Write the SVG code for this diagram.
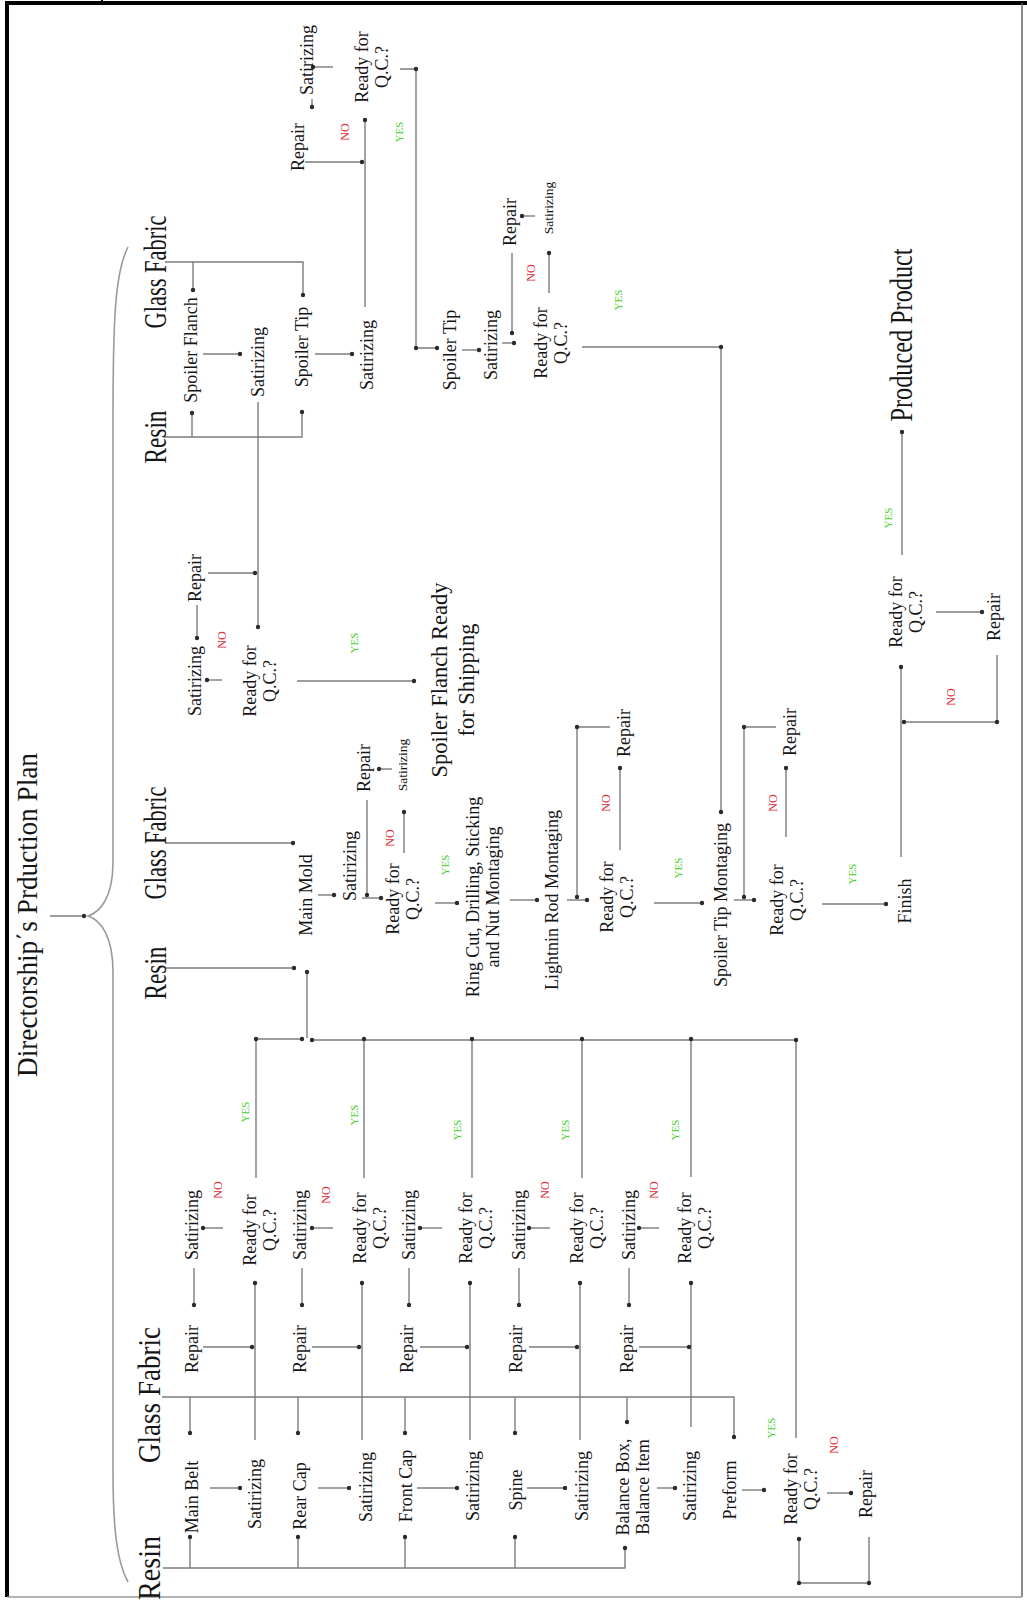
<svg xmlns="http://www.w3.org/2000/svg" width="1027" height="1600" viewBox="0 0 1027 1600">
<defs>
<style>
.t{font-family:"Liberation Serif","Times New Roman",serif;font-size:18px;fill:#151515;text-anchor:middle;dominant-baseline:central}
.big{font-size:31px}
.sm{font-size:13.5px}
.ttl{font-size:29px}
.shp{font-size:22.5px}
.no{font-family:"Liberation Serif",serif;font-size:12px;fill:#e0313b;text-anchor:middle;dominant-baseline:central}
.yes{font-family:"Liberation Serif",serif;font-size:11px;fill:#45cf2a;text-anchor:middle;dominant-baseline:central}
.c{fill:none;stroke:#7c7c7c;stroke-width:1.4}
.a{fill:none;stroke:#7c7c7c;stroke-width:1.4;marker-end:url(#dot)}
.d{fill:#2a2a2a}
</style>
<marker id="dot" viewBox="0 0 6 6" refX="3" refY="3" markerWidth="6" markerHeight="6" markerUnits="userSpaceOnUse"><circle cx="3" cy="3" r="2.2" fill="#2a2a2a"/></marker>
</defs>
<rect width="1027" height="1600" fill="#fff"/>
<g id="frame">
<line x1="7" y1="2" x2="7" y2="1597" stroke="#000" stroke-width="4"/>
<line x1="5" y1="3" x2="1027" y2="3" stroke="#000" stroke-width="4"/>
<line x1="102" y1="0" x2="102" y2="4" stroke="#000" stroke-width="2"/>
<line x1="1022" y1="3" x2="1022" y2="1597" stroke="#666" stroke-width="1.5"/>
<line x1="7" y1="1597" x2="1022" y2="1597" stroke="#999" stroke-width="1.5"/>
</g>

<g id="title"><text class="t ttl" transform="translate(27 915) rotate(-90)" textLength="324" lengthAdjust="spacingAndGlyphs">Directorship΄s Prduction Plan</text></g>
<g id="brace">
<path d="M128,247 C115,272 113,320 113,420 L113,862 C113,898 100,912 88,916 C100,920 113,935 113,972 L113,1470 C113,1530 117,1562 128,1582" fill="none" stroke="#9a9a9a" stroke-width="1.6"/>
</g>

<g id="connectors">
<path class="a" d="M50,916 H84"/>
<!-- top-left -->
<path class="a" d="M165,262 H303 V295"/>
<path class="a" d="M193,262 V290"/>
<path class="a" d="M163,437 H302 V412"/>
<path class="a" d="M192,437 V413"/>
<path class="a" d="M203,354 H240"/>
<path class="a" d="M315,354 H352"/>
<path class="a" d="M258,402 V627"/>
<path class="a" d="M208,573 H255"/>
<path class="a" d="M197,605 V638"/>
<path class="a" d="M222,680 H207"/>
<path class="a" d="M297,681 H414"/>
<!-- top-right -->
<path class="a" d="M333,67 H313"/>
<path class="a" d="M312,99 V107"/>
<path class="a" d="M305,162 H362"/>
<path class="a" d="M365,307 V120"/>
<path class="a" d="M400,69 H416 V348 H437"/>
<circle class="d" cx="416" cy="69" r="2.2"/><circle class="d" cx="416" cy="348" r="2.2"/>
<path class="a" d="M462,350 H479"/>
<path class="a" d="M502,343 H514"/>
<path class="a" d="M512,253 V333"/>
<path class="a" d="M535,216 H522"/>
<path class="a" d="M549,293 V253"/>
<path class="a" d="M582,347 H721 V812"/>
<circle class="d" cx="721" cy="347" r="2.2"/>
<!-- middle -->
<path class="a" d="M165,843 H293"/>
<path class="a" d="M165,968 H294"/>
<path class="a" d="M256,1178 V1039 H302"/>
<circle class="d" cx="256" cy="1039" r="2.2"/>
<path class="a" d="M796,1438 V1040 H312"/>
<circle class="d" cx="796" cy="1040" r="2.2"/>
<path class="a" d="M307,1038 V972"/>
<path class="c" d="M364,1178 V1039 M472,1178 V1039 M582,1178 V1039 M691,1177 V1039"/>
<circle class="d" cx="364" cy="1039" r="2.2"/><circle class="d" cx="472" cy="1039" r="2.2"/><circle class="d" cx="582" cy="1039" r="2.2"/><circle class="d" cx="691" cy="1039" r="2.2"/>
<path class="a" d="M318,895 H334"/>
<path class="a" d="M362,898 H381"/>
<path class="a" d="M367,800 V895"/>
<path class="a" d="M404,853 V812"/>
<path class="a" d="M392,769 H379"/>
<path class="a" d="M435,903 H457"/>
<path class="a" d="M510,900 H537"/>
<path class="a" d="M567,900 H587"/>
<path class="a" d="M610,727 H577 V897"/>
<circle class="d" cx="577" cy="727" r="2.2"/>
<path class="a" d="M620,850 V768"/>
<path class="a" d="M654,903 H702"/>
<path class="a" d="M734,900 H754"/>
<path class="a" d="M776,727 H744 V897"/>
<circle class="d" cx="744" cy="727" r="2.2"/>
<path class="a" d="M786,837 V768"/>
<path class="a" d="M822,904 H886"/>
<path class="a" d="M901,857 V667"/>
<path class="a" d="M936,612 H982"/>
<path class="a" d="M997,655 V722 H904"/>
<circle class="d" cx="997" cy="722" r="2.2"/>
<path class="a" d="M902,555 V432"/>
<!-- bottom -->
<path class="a" d="M163,1568 H625 V1548"/>
<path class="a" d="M190,1568 V1537"/><path class="a" d="M298,1568 V1537"/><path class="a" d="M405,1568 V1537"/><path class="a" d="M515,1568 V1537"/>
<path class="a" d="M162,1397 H734 V1437"/>
<path class="a" d="M190,1397 V1433"/><path class="a" d="M298,1397 V1433"/><path class="a" d="M405,1397 V1433"/><path class="a" d="M515,1397 V1433"/><path class="a" d="M627,1397 V1422"/>
<path class="a" d="M210,1488 H240"/><path class="a" d="M318,1488 H349"/><path class="a" d="M417,1488 H457"/><path class="a" d="M527,1488 H565"/><path class="a" d="M657,1488 H675"/><path class="a" d="M742,1490 H764"/>
<path class="a" d="M255,1440 V1283"/><path class="a" d="M362,1440 V1283"/><path class="a" d="M470,1440 V1283"/><path class="a" d="M580,1440 V1283"/><path class="a" d="M691,1427 V1283"/>
<path class="a" d="M203,1347 H252"/><path class="a" d="M312,1347 H359"/><path class="a" d="M420,1347 H467"/><path class="a" d="M529,1347 H577"/><path class="a" d="M639,1347 H689"/>
<path class="a" d="M223,1228 H203"/><path class="a" d="M333,1228 H312"/><path class="a" d="M442,1228 H420"/><path class="a" d="M550,1228 H529"/><path class="a" d="M659,1228 H639"/>
<path class="a" d="M194,1268 V1305"/><path class="a" d="M302,1268 V1305"/><path class="a" d="M409,1268 V1305"/><path class="a" d="M519,1268 V1305"/><path class="a" d="M629,1268 V1305"/>
<path class="a" d="M827,1493 H851"/>
<path class="a" d="M869,1537 V1583 H799 V1539"/>
<circle class="d" cx="869" cy="1583" r="2.2"/><circle class="d" cx="799" cy="1583" r="2.2"/>
</g>

<g id="labels">
<text class="no" transform="translate(345 132) rotate(-90)">NO</text>
<text class="no" transform="translate(531 273) rotate(-90)">NO</text>
<text class="no" transform="translate(222 640) rotate(-90)">NO</text>
<text class="no" transform="translate(390 838) rotate(-90)">NO</text>
<text class="no" transform="translate(606 803) rotate(-90)">NO</text>
<text class="no" transform="translate(773 803) rotate(-90)">NO</text>
<text class="no" transform="translate(951 697) rotate(-90)">NO</text>
<text class="no" transform="translate(218 1190) rotate(-90)">NO</text>
<text class="no" transform="translate(326 1195) rotate(-90)">NO</text>
<text class="no" transform="translate(545 1190) rotate(-90)">NO</text>
<text class="no" transform="translate(654 1190) rotate(-90)">NO</text>
<text class="no" transform="translate(834 1445) rotate(-90)">NO</text>
<text class="yes" transform="translate(399 132) rotate(-90)">YES</text>
<text class="yes" transform="translate(618 300) rotate(-90)">YES</text>
<text class="yes" transform="translate(354 643) rotate(-90)">YES</text>
<text class="yes" transform="translate(445 865) rotate(-90)">YES</text>
<text class="yes" transform="translate(678 868) rotate(-90)">YES</text>
<text class="yes" transform="translate(852 874) rotate(-90)">YES</text>
<text class="yes" transform="translate(888 518) rotate(-90)">YES</text>
<text class="yes" transform="translate(245 1112) rotate(-90)">YES</text>
<text class="yes" transform="translate(354 1115) rotate(-90)">YES</text>
<text class="yes" transform="translate(457 1130) rotate(-90)">YES</text>
<text class="yes" transform="translate(565 1130) rotate(-90)">YES</text>
<text class="yes" transform="translate(675 1130) rotate(-90)">YES</text>
<text class="yes" transform="translate(771 1428) rotate(-90)">YES</text>
</g>

<!-- top-left block -->
<g id="gf1"><text class="t big" transform="translate(155 272) rotate(-90)" textLength="113" lengthAdjust="spacingAndGlyphs">Glass Fabric</text></g>
<g id="resin1"><text class="t big" transform="translate(155 437) rotate(-90)" textLength="53" lengthAdjust="spacingAndGlyphs">Resin</text></g>
<g id="sflanch"><text class="t" transform="translate(191 350) rotate(-90)">Spoiler Flanch</text></g>
<g id="sat1"><text class="t" transform="translate(258 362) rotate(-90)">Satirizing</text></g>
<g id="stip1"><text class="t" transform="translate(302 347) rotate(-90)">Spoiler Tip</text></g>
<g id="sat2"><text class="t" transform="translate(367 355) rotate(-90)">Satirizing</text></g>
<g id="rep_tl"><text class="t" transform="translate(195 578) rotate(-90)">Repair</text></g>
<g id="sat_tl"><text class="t" transform="translate(195 681) rotate(-90)">Satirizing</text></g>
<g id="qc_tl"><text class="t" transform="translate(260 681) rotate(-90)"><tspan x="0" dy="-0.55em">Ready for</tspan><tspan x="0" dy="1.1em">Q.C.?</tspan></text></g>
<g id="ship"><text class="t shp" transform="translate(452 680) rotate(-90)"><tspan x="0" dy="-0.6em">Spoiler Flanch Ready</tspan><tspan x="0" dy="1.2em">for Shipping</tspan></text></g>

<!-- top-right block -->
<g id="sat_a"><text class="t" transform="translate(307 60) rotate(-90)">Satirizing</text></g>
<g id="rep_a"><text class="t" transform="translate(298 147) rotate(-90)">Repair</text></g>
<g id="qc_a"><text class="t" transform="translate(372 67) rotate(-90)"><tspan x="0" dy="-0.55em">Ready for</tspan><tspan x="0" dy="1.1em">Q.C.?</tspan></text></g>
<g id="stip2"><text class="t" transform="translate(450 350) rotate(-90)">Spoiler Tip</text></g>
<g id="sat_b"><text class="t" transform="translate(491 345) rotate(-90)">Satirizing</text></g>
<g id="rep_b"><text class="t" transform="translate(510 222) rotate(-90)">Repair</text></g>
<g id="sat_c"><text class="t sm" transform="translate(548 208) rotate(-90)">Satirizing</text></g>
<g id="qc_b"><text class="t" transform="translate(551 343) rotate(-90)"><tspan x="0" dy="-0.55em">Ready for</tspan><tspan x="0" dy="1.1em">Q.C.?</tspan></text></g>

<!-- middle -->
<g id="gf2"><text class="t big" transform="translate(155 843) rotate(-90)" textLength="113" lengthAdjust="spacingAndGlyphs">Glass Fabric</text></g>
<g id="resin2"><text class="t big" transform="translate(155 973) rotate(-90)" textLength="53" lengthAdjust="spacingAndGlyphs">Resin</text></g>
<g id="mold"><text class="t" transform="translate(306 895) rotate(-90)">Main Mold</text></g>
<g id="sat_m"><text class="t" transform="translate(350 866) rotate(-90)">Satirizing</text></g>
<g id="qc_m"><text class="t" transform="translate(403 899) rotate(-90)"><tspan x="0" dy="-0.55em">Ready for</tspan><tspan x="0" dy="1.1em">Q.C.?</tspan></text></g>
<g id="rep_m"><text class="t" transform="translate(364 768) rotate(-90)">Repair</text></g>
<g id="sat_ms"><text class="t sm" transform="translate(402 765) rotate(-90)">Satirizing</text></g>
<g id="ring"><text class="t" transform="translate(483 897) rotate(-90)"><tspan x="0" dy="-0.55em">Ring Cut, Drilling, Sticking</tspan><tspan x="0" dy="1.1em">and Nut Montaging</tspan></text></g>
<g id="light"><text class="t" transform="translate(552 900) rotate(-90)">Lightnin Rod Montaging</text></g>
<g id="rep_l"><text class="t" transform="translate(624 733) rotate(-90)">Repair</text></g>
<g id="qc_l"><text class="t" transform="translate(617 897) rotate(-90)"><tspan x="0" dy="-0.55em">Ready for</tspan><tspan x="0" dy="1.1em">Q.C.?</tspan></text></g>
<g id="stm"><text class="t" transform="translate(721 905) rotate(-90)">Spoiler Tip Montaging</text></g>
<g id="rep_s"><text class="t" transform="translate(790 732) rotate(-90)">Repair</text></g>
<g id="qc_s"><text class="t" transform="translate(787 900) rotate(-90)"><tspan x="0" dy="-0.55em">Ready for</tspan><tspan x="0" dy="1.1em">Q.C.?</tspan></text></g>
<g id="finish"><text class="t" transform="translate(905 901) rotate(-90)">Finish</text></g>
<g id="qc_f"><text class="t" transform="translate(906 612) rotate(-90)"><tspan x="0" dy="-0.55em">Ready for</tspan><tspan x="0" dy="1.1em">Q.C.?</tspan></text></g>
<g id="rep_f"><text class="t" transform="translate(994 617) rotate(-90)">Repair</text></g>
<g id="prod"><text class="t big" transform="translate(901 335) rotate(-90)" textLength="173" lengthAdjust="spacingAndGlyphs">Produced Product</text></g>

<!-- bottom -->
<g id="gf3"><text class="t big" transform="translate(149 1395) rotate(-90)" textLength="136" lengthAdjust="spacingAndGlyphs">Glass Fabric</text></g>
<g id="resin3"><text class="t big" transform="translate(149 1568) rotate(-90)" textLength="64" lengthAdjust="spacingAndGlyphs">Resin</text></g>
<g id="belt"><text class="t" transform="translate(192 1497) rotate(-90)">Main Belt</text></g>
<g id="rear"><text class="t" transform="translate(300 1496) rotate(-90)">Rear Cap</text></g>
<g id="front"><text class="t" transform="translate(406 1486) rotate(-90)">Front Cap</text></g>
<g id="spine"><text class="t" transform="translate(516 1490) rotate(-90)">Spine</text></g>
<g id="balance"><text class="t" transform="translate(633 1487) rotate(-90)"><tspan x="0" dy="-0.55em">Balance Box,</tspan><tspan x="0" dy="1.1em">Balance Item</tspan></text></g>
<g id="preform"><text class="t" transform="translate(730 1490) rotate(-90)">Preform</text></g>
<g id="satB1"><text class="t" transform="translate(255 1494) rotate(-90)">Satirizing</text></g>
<g id="satB2"><text class="t" transform="translate(366 1487) rotate(-90)">Satirizing</text></g>
<g id="satB3"><text class="t" transform="translate(473 1486) rotate(-90)">Satirizing</text></g>
<g id="satB4"><text class="t" transform="translate(582 1486) rotate(-90)">Satirizing</text></g>
<g id="satB5"><text class="t" transform="translate(690 1486) rotate(-90)">Satirizing</text></g>
<g id="rep1"><text class="t" transform="translate(192 1349) rotate(-90)">Repair</text></g>
<g id="rep2"><text class="t" transform="translate(300 1349) rotate(-90)">Repair</text></g>
<g id="rep3"><text class="t" transform="translate(407 1349) rotate(-90)">Repair</text></g>
<g id="rep4"><text class="t" transform="translate(516 1349) rotate(-90)">Repair</text></g>
<g id="rep5"><text class="t" transform="translate(627 1349) rotate(-90)">Repair</text></g>
<g id="satU1"><text class="t" transform="translate(192 1225) rotate(-90)">Satirizing</text></g>
<g id="satU2"><text class="t" transform="translate(300 1225) rotate(-90)">Satirizing</text></g>
<g id="satU3"><text class="t" transform="translate(409 1225) rotate(-90)">Satirizing</text></g>
<g id="satU4"><text class="t" transform="translate(519 1225) rotate(-90)">Satirizing</text></g>
<g id="satU5"><text class="t" transform="translate(629 1225) rotate(-90)">Satirizing</text></g>
<g id="qc1"><text class="t" transform="translate(260 1230) rotate(-90)"><tspan x="0" dy="-0.55em">Ready for</tspan><tspan x="0" dy="1.1em">Q.C.?</tspan></text></g>
<g id="qc2"><text class="t" transform="translate(370 1228) rotate(-90)"><tspan x="0" dy="-0.55em">Ready for</tspan><tspan x="0" dy="1.1em">Q.C.?</tspan></text></g>
<g id="qc3"><text class="t" transform="translate(476 1228) rotate(-90)"><tspan x="0" dy="-0.55em">Ready for</tspan><tspan x="0" dy="1.1em">Q.C.?</tspan></text></g>
<g id="qc4"><text class="t" transform="translate(587 1228) rotate(-90)"><tspan x="0" dy="-0.55em">Ready for</tspan><tspan x="0" dy="1.1em">Q.C.?</tspan></text></g>
<g id="qc5"><text class="t" transform="translate(695 1228) rotate(-90)"><tspan x="0" dy="-0.55em">Ready for</tspan><tspan x="0" dy="1.1em">Q.C.?</tspan></text></g>
<g id="qc6"><text class="t" transform="translate(801 1489) rotate(-90)"><tspan x="0" dy="-0.55em">Ready for</tspan><tspan x="0" dy="1.1em">Q.C.?</tspan></text></g>
<g id="rep6"><text class="t" transform="translate(866 1494) rotate(-90)">Repair</text></g>
</svg>
